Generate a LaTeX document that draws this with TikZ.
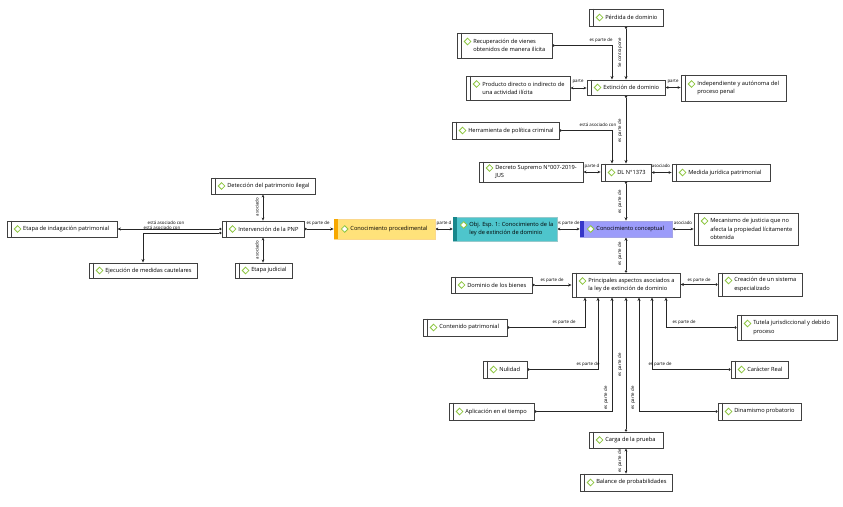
\documentclass[tikz,border=0pt]{standalone}
\usepackage{fontspec}
\setmainfont{Open Sans}
\usetikzlibrary{arrows.meta,shapes.geometric,calc}
\definecolor{bordcol}{HTML}{404040}
\definecolor{diagreen}{HTML}{8DC63F}
\definecolor{yelfill}{HTML}{FFE27A}
\definecolor{yelbar}{HTML}{F7A800}
\definecolor{cyafill}{HTML}{4EC5CC}
\definecolor{cyabar}{HTML}{17878C}
\definecolor{purfill}{HTML}{9C9CFA}
\definecolor{purbar}{HTML}{3636C8}
\pgfdeclarelayer{bg}
\pgfsetlayers{bg,main}
\tikzset{
 box/.style={draw=bordcol, line width=0.9pt, fill=white, rectangle, inner sep=0},
 strip/.style={draw=bordcol, line width=0.7pt},
 txt/.style={font=\fontsize{5.7}{8.2}\selectfont, text=black, align=left, inner sep=0},
 dia/.style={diamond, draw=diagreen, fill=white, line width=0.8pt, minimum width=7pt, minimum height=7pt, inner sep=0},
 lk/.style={draw=black!85, line width=0.6pt, {Circle[length=2.4pt]}-{Stealth[length=3.5pt,width=3pt]}},
 bi/.style={draw=black!85, line width=0.6pt, {Stealth[length=3pt,width=2.8pt]}-{Stealth[length=3pt,width=2.8pt]}},
 el/.style={font=\fontsize{4.4}{5}\selectfont, inner sep=0.5pt, text=black},
}
\newcommand\bx[7][0pt]{%
 \node[box, minimum width={#5-#3}, minimum height={#6-#4}] (#2) at ({(#3+#5)/2},{(#4+#6)/2}) {};
 \draw[strip] ([xshift=4.5pt]#2.north west) -- ([xshift=4.5pt]#2.south west);
 \node[txt, anchor=west] (#2-t) at ([xshift=16.5pt]#2.west) {#7};
 \node[dia] (#2-d) at ([xshift=11pt,yshift=#1]#2.west) {};
}
\newcommand\cbx[9][0pt]{%
 \node[rectangle, draw=#8!45, line width=0.6pt, fill=#7, inner sep=0, minimum width={#5-#3}, minimum height={#6-#4}] (#2) at ({(#3+#5)/2},{(#4+#6)/2}) {};
 \fill[fill=#8] (#2.north west) rectangle ([xshift=4.5pt]#2.south west);
 \node[txt, anchor=west] (#2-t) at ([xshift=16.5pt]#2.west) {#9};
 \node[dia] (#2-d) at ([xshift=11pt,yshift=#1]#2.west) {};
}
\begin{document}
\begin{tikzpicture}[x=1pt,y=-1pt]
\useasboundingbox (0,0) rectangle (843,506);
% nodes
\bx{perd}{589}{9}{663}{26}{Pérdida de dominio}
\bx[4pt]{recup}{457}{33}{552}{58}{Recuperación de vienes\\obtenidos de manera ilícita}
\bx[4pt]{prod}{466}{76}{570}{100}{Producto directo o indirecto de\\una actividad ilícita}
\bx{extin}{587}{80}{665}{95}{Extinción de dominio}
\bx[4pt]{indep}{681}{75}{786}{101}{Independiente y autónoma del\\proceso penal}
\bx{herr}{452}{122}{559}{139}{Herramienta de política criminal}
\bx[4pt]{decr}{479}{162}{583}{182}{Decreto Supremo N°007-2019-\\JUS}
\bx{dl}{601}{164}{651}{181}{DL N°1373}
\bx{medida}{672}{164}{770}{181}{Medida jurídica patrimonial}
\bx{detec}{211}{178}{315}{194}{Detección del patrimonio ilegal}
\bx{indag}{7}{221}{117}{237}{Etapa de indagación patrimonial}
\bx{pnp}{222}{221}{304}{237}{Intervención de la PNP}
\bx{ejec}{89}{263}{197}{278}{Ejecución de medidas cautelares}
\bx{judic}{235}{263}{292}{278}{Etapa judicial}
\cbx{cproc}{334}{219}{435}{239}{yelfill}{yelbar}{Conocimiento procedimental}
\cbx[4pt]{obj}{453}{217}{557}{241}{cyafill}{cyabar}{Obj. Esp. 1: Conocimiento de la\\ley de extinción de dominio}
\cbx{cconc}{580}{221}{672}{237}{purfill}{purbar}{Conocimiento conceptual}
\bx[8pt]{mec}{694}{213}{798}{245}{Mecanismo de justicia que no\\afecta la propiedad lícitamente\\obtenida}
\bx[4pt]{princ}{572}{273}{680}{297}{Principales aspectos asociados a\\la ley de extinción de dominio}
\bx{dom}{451}{277}{532}{293}{Dominio de los bienes}
\bx[4pt]{crea}{718}{273}{802}{296}{Creación de un sistema\\especializado}
\bx{cont}{423}{319}{507}{336}{Contenido patrimonial}
\bx[4pt]{tut}{737}{315}{837}{340}{Tutela jurisdiccional y debido\\proceso}
\bx{nul}{483}{361}{527}{378}{Nulidad}
\bx{car}{731}{361}{788}{378}{Carácter Real}
\bx{apl}{449}{403}{534}{420}{Aplicación en el tiempo}
\bx{din}{718}{403}{801}{420}{Dinamismo probatorio}
\bx{carga}{589}{432}{663}{448}{Carga de la prueba}
\bx{bal}{580}{474}{672}{491}{Balance de probabilidades}
\begin{pgfonlayer}{bg}
\fill[white] (0,0) rectangle (843,506);
% connectors
\draw[lk] (perd.south) -- (extin.north);
\draw[lk] (recup.east) -| ([xshift=-14pt]extin.north);
\draw[bi] (prod.east) -- (prod.east -| extin.west);
\draw[bi] (extin.east) -- (extin.east -| indep.west);
\draw[lk] (extin.south) -- (dl.north);
\draw[lk] (herr.east) -| ([xshift=-14pt]dl.north);
\draw[bi] (decr.east) -- (decr.east -| dl.west);
\draw[bi] (dl.east) -- (dl.east -| medida.west);
\draw[lk] (dl.south) -- (cconc.north);
\draw[bi] (obj.east) -- (obj.east -| cconc.west);
\draw[bi] (cconc.east) -- (cconc.east -| mec.west);
\draw[lk] (princ.north) -- (cconc.south);
\draw[bi] (cproc.east) -- (cproc.east -| obj.west);
\draw[lk] (pnp.east) -- (pnp.east -| cproc.west);
\draw[bi] (detec.south -| pnp.north) -- (pnp.north);
\draw[bi] (pnp.south) -- (pnp.south |- judic.north);
\draw[lk] (pnp.west) -- (pnp.west -| indag.east);
\draw[lk] ([yshift=-4pt]pnp.west) -| (ejec.north);
\draw[lk] (dom.east) -- (dom.east -| princ.west);
\draw[lk] (crea.west) -- (crea.west -| princ.east);
\draw[lk] (cont.east) -| ([xshift=-41pt]princ.south);
\draw[lk] (tut.west) -| ([xshift=40pt]princ.south);
\draw[lk] (nul.east) -| ([xshift=-28pt]princ.south);
\draw[lk] (car.west) -| ([xshift=26pt]princ.south);
\draw[lk] (apl.east) -| ([xshift=-14pt]princ.south);
\draw[lk] (din.west) -| ([xshift=13pt]princ.south);
\draw[lk] (carga.north) -- (princ.south);
\draw[bi] (bal.north) -- (carga.south);
% labels
\node[el] (l1) at (601,40) {es parte de};
\node[el, rotate=90] (l2) at (620,53) {Se contrapone};
\node[el] (l3) at (578,82) {parte};
\node[el] (l4) at (673,82) {parte};
\node[el, rotate=90] (l5) at (620,131) {es parte de};
\node[el] (l6) at (598,125) {está asociado con};
\node[el] (l7) at (592,166) {parte d};
\node[el] (l8) at (661,166) {asociado};
\node[el, rotate=90] (l9) at (620,202) {es parte de};
\node[el] (l10) at (568,223) {es parte de};
\node[el] (l11) at (683,223) {asociado};
\node[el, rotate=90] (l12) at (620,254) {es parte de};
\node[el] (l13) at (444,223) {parte d};
\node[el] (l14) at (318,223) {es parte de};
\node[el, rotate=90] (l15) at (257,207) {asociado};
\node[el, rotate=90] (l16) at (257,250) {asociado};
\node[el] (l17) at (166,223) {está asociado con};
\node[el] (l18) at (162,227.5) {está asociado con};
\node[el] (l19) at (552,280) {es parte de};
\node[el] (l20) at (699,280) {es parte de};
\node[el] (l21) at (564,322) {es parte de};
\node[el] (l22) at (684,322) {es parte de};
\node[el] (l23) at (588,364) {es parte de};
\node[el] (l24) at (660,364) {es parte de};
\node[el, rotate=90] (l25) at (606,398) {es parte de};
\node[el, rotate=90] (l26) at (633,398) {es parte de};
\node[el, rotate=90] (l27) at (620,365) {es parte de};
\node[el, rotate=90] (l28) at (620,461) {es parte de};
\end{pgfonlayer}
\end{tikzpicture}
\end{document}
